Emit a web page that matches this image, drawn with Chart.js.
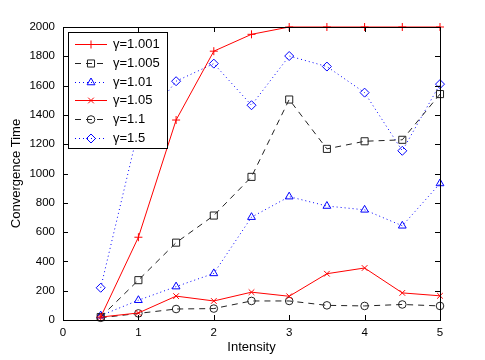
<!DOCTYPE html>
<html>
<head>
<meta charset="utf-8">
<script src="https://cdn.jsdelivr.net/npm/chart.js@4.4.1/dist/chart.umd.min.js"></script>
<style>
html, body { margin: 0; padding: 0; background: #fff; }
</style>
</head>
<body>
<canvas id="myChart" width="485" height="360"></canvas>
<script>
// data
const intensity = [0.5, 1, 1.5, 2, 2.5, 3, 3.5, 4, 4.5, 5];
const seriesNames = ['γ=1.001', 'γ=1.005', 'γ=1.01', 'γ=1.05', 'γ=1.1', 'γ=1.5'];
const g1001 = [20, 565, 1365, 1835, 1950, 2000, 2000, 2000, 2000, 2000];
const g1005 = [20, 272, 528, 713, 977, 1505, 1168, 1220, 1230, 1542];
const g101 = [30, 135, 228, 318, 702, 842, 778, 752, 643, 932];
const g105 = [20, 48, 163, 130, 190, 162, 316, 355, 185, 165];
const g11 = [15, 45, 75, 78, 130, 130, 100, 96, 106, 96];
const g15 = [220, 1300, 1630, 1750, 1466, 1802, 1730, 1552, 1155, 1610];

const xTicks = [0, 1, 2, 3, 4, 5];
const yTicks = [0, 200, 400, 600, 800, 1000, 1200, 1400, 1600, 1800, 2000];

const font = "'Liberation Sans', Arial, sans-serif";

function pts(vals) {
    return intensity.map((x, i) => ({ x: x, y: vals[i] }));
}

function mkSet(label, vals, color, dash, style, r) {
    return {
        label: label,
        data: pts(vals),
        borderColor: color,
        backgroundColor: 'rgba(0,0,0,0)',
        borderWidth: 1,
        borderDash: dash,
        pointStyle: style,
        pointRadius: r,
        pointBorderColor: color,
        pointBackgroundColor: 'rgba(0,0,0,0)',
        pointBorderWidth: 1,
        tension: 0,
        clip: false
    };
}

const datasets = [
    mkSet(seriesNames[0], g1001, '#ff0000', [], 'cross', 4),
    mkSet(seriesNames[1], g1005, '#222222', [6, 5], 'rect', 5),
    mkSet(seriesNames[2], g101, '#0000ff', [1, 3], 'triangle', 4.5),
    mkSet(seriesNames[3], g105, '#ff0000', [], 'crossRot', 4),
    mkSet(seriesNames[4], g11, '#222222', [6, 5], 'circle', 3.8),
    mkSet(seriesNames[5], g15, '#0000ff', [1, 3], 'rectRot', 4.5)
];

// matlab style box with inward ticks
const boxPlugin = {
    id: 'box',
    afterDatasetsDraw(chart) {
        const ctx = chart.ctx;
        const a = chart.chartArea;
        const sx = chart.scales.x, sy = chart.scales.y;
        ctx.save();
        ctx.strokeStyle = '#000';
        ctx.lineWidth = 1;
        ctx.setLineDash([]);
        ctx.beginPath();
        xTicks.forEach(v => {
            const p = Math.round(sx.getPixelForValue(v)) + 0.5;
            ctx.moveTo(p, a.bottom); ctx.lineTo(p, a.bottom - 5);
            ctx.moveTo(p, a.top); ctx.lineTo(p, a.top + 5);
        });
        yTicks.forEach(v => {
            const p = Math.round(sy.getPixelForValue(v)) + 0.5;
            ctx.moveTo(a.left, p); ctx.lineTo(a.left + 5, p);
            ctx.moveTo(a.right, p); ctx.lineTo(a.right - 5, p);
        });
        ctx.stroke();
        ctx.strokeRect(Math.round(a.left) + 0.5, Math.round(a.top) + 0.5,
            Math.round(a.right - a.left), Math.round(a.bottom - a.top));

        // legend in the upper left corner
        const lx = 68, ly = 32, lw = 99, lh = 116;
        ctx.fillStyle = '#fff';
        ctx.fillRect(lx, ly, lw, lh);
        ctx.strokeRect(lx + 0.5, ly + 0.5, lw, lh);
        ctx.font = '13px ' + font;
        ctx.textBaseline = 'middle';
        chart.data.datasets.forEach((ds, i) => {
            const y = Math.round(44 + i * 18.8) + 0.5;
            ctx.strokeStyle = ds.borderColor;
            ctx.setLineDash(ds.borderDash);
            ctx.beginPath();
            ctx.moveTo(75, y); ctx.lineTo(107, y);
            ctx.stroke();
            ctx.setLineDash([]);
            ctx.fillStyle = 'rgba(0,0,0,0)';
            Chart.helpers.drawPoint(ctx, {
                pointStyle: ds.pointStyle, radius: ds.pointRadius,
                rotation: 0, borderWidth: 1
            }, 91, y);
            ctx.fillStyle = '#000';
            ctx.fillText(ds.label, 113, y);
        });
        ctx.restore();
    }
};

var ctx = document.getElementById('myChart');
var myChart = new Chart(ctx, {
    type: 'line',
    data: { datasets: datasets },
    options: {
        responsive: false,
        animation: false,
        devicePixelRatio: 1,
        layout: { padding: { left: 0, top: 27, right: 45, bottom: 0 } },
        plugins: {
            legend: { display: false },
            tooltip: { enabled: false }
        },
        scales: {
            x: {
                type: 'linear',
                min: 0,
                max: 5,
                afterFit: s => { s.height = 40; },
                afterBuildTicks: s => { s.ticks = xTicks.map(v => ({ value: v })); },
                grid: { display: false, drawTicks: false },
                border: { display: false },
                ticks: {
                    color: '#000', padding: 6, font: { family: font, size: 11.5 },
                    callback: v => String(v)
                },
                title: {
                    display: true, text: 'Intensity', color: '#000',
                    font: { family: font, size: 13 }, padding: { top: 0, bottom: 5 }
                }
            },
            y: {
                min: 0,
                max: 2000,
                afterFit: s => { s.width = 63; },
                afterBuildTicks: s => { s.ticks = yTicks.map(v => ({ value: v })); },
                grid: { display: false, drawTicks: false },
                border: { display: false },
                ticks: {
                    color: '#000', padding: 8, font: { family: font, size: 11.5 },
                    callback: v => String(v)
                },
                title: {
                    display: true, text: 'Convergence Time', color: '#000',
                    font: { family: font, size: 13 }, padding: { top: 9, bottom: 0 }
                }
            }
        }
    },
    plugins: [boxPlugin]
});
</script>
</body>
</html>
